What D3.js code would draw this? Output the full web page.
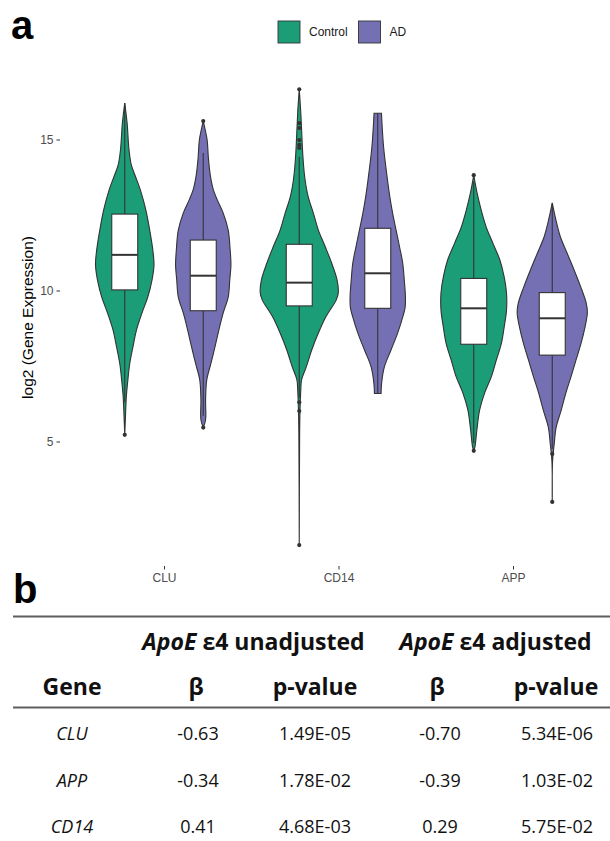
<!DOCTYPE html>
<html>
<head>
<meta charset="utf-8">
<title>Gene expression violins and ApoE table</title>
<style>
  body { margin: 0; background: #fff; }
  svg { display: block; }
</style>
</head>
<body>
<script src="https://cdn.jsdelivr.net/npm/d3@7/dist/d3.min.js"></script>
<script>
// categories
var genesPlot = ["CLU", "CD14", "APP"];
var groups = ["Control", "AD"];
var yTicks = [5, 10, 15];

// violin profiles: [log2 expression, relative density]
var cluControl = [[16.21,0],[15.55,0.06],[14.65,0.11],[14.15,0.17],[13.76,0.28],[13.33,0.40],[12.67,0.54],[12.0,0.64],[11.34,0.72],[10.85,0.75],[10.35,0.70],[9.78,0.59],[9.25,0.44],[8.69,0.30],[8.13,0.21],[7.6,0.13],[7.04,0.08],[6.47,0.04],[5.88,0.02],[5.22,0]];
var cluAD = [[15.61,0],[14.98,0.10],[14.42,0.13],[13.82,0.18],[13.33,0.26],[13.0,0.36],[12.57,0.51],[12.0,0.64],[11.34,0.69],[10.85,0.71],[10.35,0.68],[9.78,0.64],[9.25,0.51],[8.69,0.40],[8.13,0.30],[7.6,0.20],[7.04,0.09],[6.38,0.06],[5.72,0.06],[5.46,0]];
var cd14Control = [[16.66,0],[15.88,0.04],[14.75,0.08],[14.15,0.11],[13.66,0.15],[13.10,0.23],[12.57,0.36],[12.0,0.49],[11.44,0.67],[10.91,0.83],[10.35,0.97],[9.92,1.0],[9.69,0.95],[9.12,0.68],[8.59,0.49],[8.03,0.32],[7.47,0.18],[7.04,0.06],[6.71,0.04],[6.05,0.02],[5.28,0.01],[1.57,0]];
var cd14AD = [[15.87,0.095],[14.75,0.15],[13.66,0.25],[13.10,0.31],[12.57,0.38],[12.0,0.47],[11.44,0.56],[10.91,0.64],[10.35,0.68],[9.78,0.71],[9.42,0.70],[9.12,0.64],[8.59,0.51],[8.03,0.34],[7.47,0.17],[6.94,0.10],[6.59,0.085]];
var appControl = [[13.82,0],[13.23,0.085],[12.67,0.19],[12.10,0.32],[11.57,0.49],[11.01,0.67],[10.45,0.78],[9.92,0.84],[9.35,0.84],[8.79,0.78],[8.26,0.71],[7.70,0.58],[7.14,0.45],[6.61,0.28],[6.04,0.15],[5.38,0.08],[4.82,0.03],[4.69,0]];
var appAD = [[12.90,0],[12.33,0.095],[11.77,0.21],[11.24,0.38],[10.68,0.56],[10.12,0.73],[9.59,0.87],[9.26,0.90],[8.79,0.84],[8.26,0.74],[7.70,0.61],[7.14,0.48],[6.61,0.35],[6.04,0.23],[5.47,0.10],[4.91,0.05],[4.39,0.01],[3.0,0]];

// box statistics, order: CLU-Control, CLU-AD, CD14-Control, CD14-AD, APP-Control, APP-AD
var q1 = [10.02, 9.33, 9.49, 9.41, 8.22, 7.86];
var medians = [11.18, 10.49, 10.26, 10.57, 9.41, 9.08];
var q3 = [12.53, 11.67, 11.53, 12.06, 10.40, 9.93];
var whiskerLow = [6.3, 5.85, 6.45, 6.59, 4.95, 4.76];
var whiskerHigh = [16.21, 14.55, 14.43, 15.87, 13.6, 12.89];
var outliers = [[5.22], [15.61, 5.46], [16.66, 15.54, 15.38, 14.98, 14.82, 14.72, 6.30, 6.01, 1.57], [], [13.82, 4.69], [4.59, 3.0]];

// table
var tableGenes = ["CLU", "APP", "CD14"];
var betaUnadj = [-0.63, -0.34, 0.41];
var pUnadj = [1.49e-5, 1.78e-2, 4.68e-3];
var betaAdj = [-0.70, -0.39, 0.29];
var pAdj = [5.34e-6, 1.03e-2, 5.75e-2];
var headerCols = ["Gene", "β", "p-value", "β", "p-value"];

var width = 610, height = 841;
var colors = { "Control": "#1b9e77", "AD": "#7570b3" };
var ink = "#333333";

var svg = d3.select("body").append("svg")
  .attr("width", width)
  .attr("height", height);

// panel letters
svg.append("text").attr("x", 11).attr("y", 39)
  .attr("font-family", "Liberation Sans, Arial, sans-serif")
  .attr("font-weight", "bold").attr("font-size", 40).text("a");
svg.append("text").attr("x", 13).attr("y", 603)
  .attr("font-family", "Liberation Sans, Arial, sans-serif")
  .attr("font-weight", "bold").attr("font-size", 40).text("b");

// scales
var xScale = d3.scalePoint().domain(genesPlot).range([164, 513]);
var dodge = d3.scaleBand().domain(groups).range([-78.5, 78.5]);
var yScale = d3.scaleLinear().domain([5, 15]).range([441.5, 139.5]);
var wScale = d3.scaleLinear().domain([0, 1]).range([0, 39]);
var boxHalf = 13;

var profiles = [cluControl, cluAD, cd14Control, cd14AD, appControl, appAD];
var cells = [];
genesPlot.forEach(function(g) {
  groups.forEach(function(grp) {
    var i = cells.length;
    cells.push({
      gene: g, group: grp, profile: profiles[i],
      q1: q1[i], med: medians[i], q3: q3[i],
      lo: whiskerLow[i], hi: whiskerHigh[i], out: outliers[i]
    });
  });
});
function cx(d) { return xScale(d.gene) + dodge(d.group) + dodge.bandwidth() / 2; }

var plot = svg.append("g").attr("id", "plot").attr("font-family", "Liberation Sans, Arial, sans-serif");

// violins
plot.append("g").selectAll("path").data(cells).enter().append("path")
  .attr("d", function(d) {
    var c = cx(d);
    return d3.area()
      .y(function(p) { return yScale(p[0]); })
      .x0(function(p) { return c - wScale(p[1]); })
      .x1(function(p) { return c + wScale(p[1]); })
      .curve(d3.curveCatmullRom.alpha(0.5))(d.profile);
  })
  .attr("fill", function(d) { return colors[d.group]; })
  .attr("stroke", ink).attr("stroke-width", 1.1);

// whiskers
var box = plot.append("g").selectAll("g").data(cells).enter().append("g");
box.append("line")
  .attr("x1", cx).attr("x2", cx)
  .attr("y1", function(d) { return yScale(d.hi); })
  .attr("y2", function(d) { return yScale(d.q3); })
  .attr("stroke", ink).attr("stroke-width", 1.1);
box.append("line")
  .attr("x1", cx).attr("x2", cx)
  .attr("y1", function(d) { return yScale(d.q1); })
  .attr("y2", function(d) { return yScale(d.lo); })
  .attr("stroke", ink).attr("stroke-width", 1.1);
box.append("rect")
  .attr("x", function(d) { return cx(d) - boxHalf; })
  .attr("y", function(d) { return yScale(d.q3); })
  .attr("width", boxHalf * 2)
  .attr("height", function(d) { return yScale(d.q1) - yScale(d.q3); })
  .attr("fill", "#ffffff").attr("stroke", ink).attr("stroke-width", 1.1);
box.append("line")
  .attr("x1", function(d) { return cx(d) - boxHalf; })
  .attr("x2", function(d) { return cx(d) + boxHalf; })
  .attr("y1", function(d) { return yScale(d.med); })
  .attr("y2", function(d) { return yScale(d.med); })
  .attr("stroke", ink).attr("stroke-width", 2);
box.selectAll("circle").data(function(d) {
    return d.out.map(function(v) { return { v: v, c: cx(d) }; });
  }).enter().append("circle")
  .attr("cx", function(o) { return o.c; })
  .attr("cy", function(o) { return yScale(o.v); })
  .attr("r", 2.1).attr("fill", ink);

// axes
var yAxis = plot.append("g").attr("transform", "translate(60,0)")
  .call(d3.axisLeft(yScale).tickValues(yTicks).tickSize(3.5).tickPadding(3));
var xAxis = plot.append("g").attr("transform", "translate(0,566)")
  .call(d3.axisBottom(xScale).tickSize(3.5).tickPadding(4));
[yAxis, xAxis].forEach(function(a) {
  a.select(".domain").remove();
  a.selectAll(".tick line").attr("stroke", ink);
  a.selectAll(".tick text").attr("fill", "#4d4d4d").attr("font-size", 12)
    .attr("font-family", "Liberation Sans, Arial, sans-serif");
});

plot.append("text")
  .attr("transform", "translate(27,317.5) rotate(-90)")
  .attr("text-anchor", "middle").attr("dominant-baseline", "central")
  .attr("font-size", 15.5).attr("fill", "#000")
  .text("log2 (Gene Expression)");

// legend
var legend = plot.append("g").selectAll("g").data(groups).enter().append("g")
  .attr("transform", function(d, i) { return "translate(" + [278, 358.5][i] + ",21)"; });
legend.append("rect").attr("width", 22).attr("height", 22)
  .attr("fill", function(d) { return colors[d]; })
  .attr("stroke", ink).attr("stroke-width", 0.9);
legend.append("text").attr("x", 31).attr("y", 11)
  .attr("dominant-baseline", "central").attr("font-size", 12).attr("fill", "#1a1a1a")
  .text(function(d) { return d; });

// table
var table = svg.append("g").attr("id", "table")
  .attr("font-family", "Open Sans, sans-serif").attr("fill", "#111");
var colX = [72, 198, 315, 440, 557];

function sci(v) {
  var s = v.toExponential(2).split("e");
  var e = parseInt(s[1], 10);
  return s[0] + "E" + (e < 0 ? "-" : "+") + (Math.abs(e) < 10 ? "0" : "") + Math.abs(e);
}

table.append("line").attr("x1", 13).attr("x2", 610).attr("y1", 616.5).attr("y2", 616.5)
  .attr("stroke", "#5e5e5e").attr("stroke-width", 2);
table.append("line").attr("x1", 13).attr("x2", 610).attr("y1", 707.5).attr("y2", 707.5)
  .attr("stroke", "#5e5e5e").attr("stroke-width", 2);

var spans = [{ x: 253.5, rest: " ε4 unadjusted" }, { x: 495.5, rest: " ε4 adjusted" }];
spans.forEach(function(s) {
  var t = table.append("text").attr("x", s.x).attr("y", 649.5)
    .attr("text-anchor", "middle").attr("font-size", 23).attr("font-weight", "bold");
  t.append("tspan").attr("font-style", "italic").text("ApoE");
  t.append("tspan").text(s.rest);
});

table.selectAll("text.h2").data(headerCols).enter().append("text")
  .attr("class", "h2")
  .attr("x", function(d, i) { return [72, 196, 315, 437, 556][i]; })
  .attr("y", 695).attr("text-anchor", "middle")
  .attr("font-size", 23).attr("font-weight", "bold")
  .text(function(d) { return d; });

var rowY = [740, 786.5, 833];
var rows = table.selectAll("g.row").data(tableGenes).enter().append("g")
  .attr("class", "row")
  .attr("transform", function(d, i) { return "translate(0," + rowY[i] + ")"; });
rows.each(function(g, i) {
  var vals = [g, betaUnadj[i].toFixed(2), sci(pUnadj[i]), betaAdj[i].toFixed(2), sci(pAdj[i])];
  d3.select(this).selectAll("text").data(vals).enter().append("text")
    .attr("x", function(d, j) { return colX[j]; })
    .attr("text-anchor", "middle").attr("font-size", 18)
    .attr("font-style", function(d, j) { return j === 0 ? "italic" : "normal"; })
    .text(function(d) { return d; });
});
</script>
</body>
</html>
